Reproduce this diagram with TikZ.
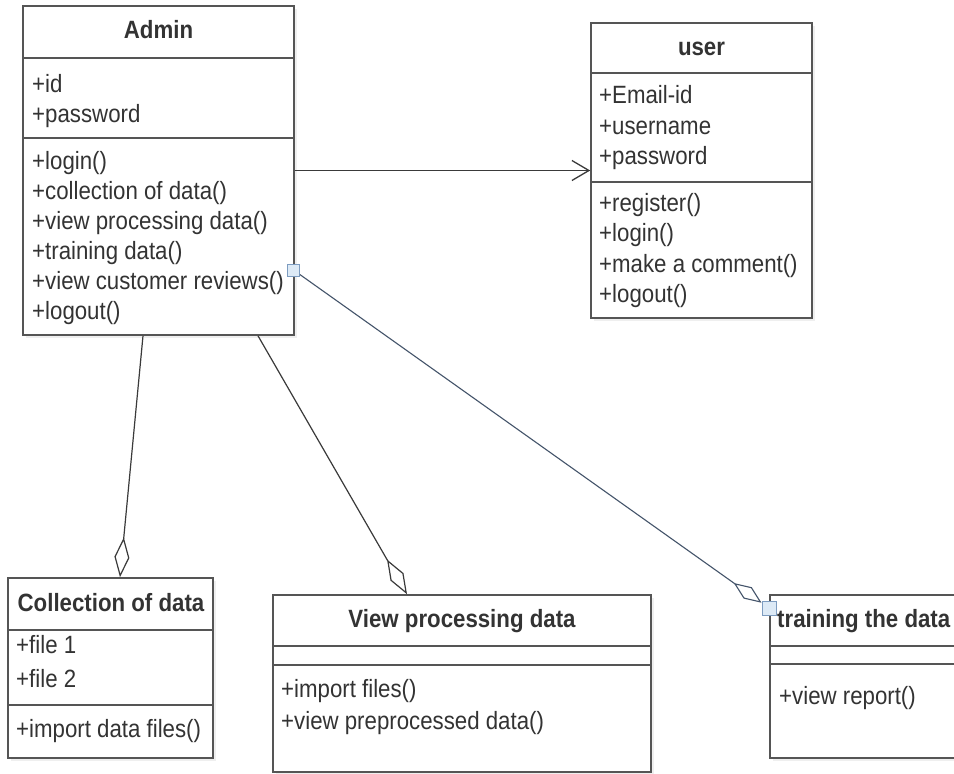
\documentclass[tikz,border=0pt]{standalone}
\usepackage{fontspec}
\setmainfont[FakeStretch=0.89]{Liberation Sans}
\usetikzlibrary{arrows.meta,shadows}
\definecolor{bordc}{HTML}{555555}
\definecolor{txtc}{HTML}{333333}
\definecolor{linec}{HTML}{3A3A3A}
\definecolor{bluec}{HTML}{44546A}
\definecolor{sqf}{HTML}{DDEAF6}
\definecolor{sqd}{HTML}{7D9CC0}
\begin{document}
\begin{tikzpicture}[x=1pt,y=-1pt,
  box/.style={draw=bordc, line width=1.6pt, fill=white, rectangle, inner sep=0pt,
    drop shadow={opacity=0.12, shadow xshift=3pt, shadow yshift=-3pt}},
  divline/.style={draw=bordc, line width=1.6pt},
  txt/.style={font=\fontsize{25}{28}\selectfont, text=txtc, inner sep=0pt, anchor=west,
    text height=17pt, text depth=5pt},
  ttl/.style={font=\bfseries\fontsize{25}{28}\selectfont, text=txtc, inner sep=0pt,
    text height=17pt, text depth=5pt},
  agg/.style={draw=linec, line width=1.2pt,
    -{Diamond[open, length=40pt, width=15pt, line width=1.2pt]}},
  aggb/.style={draw=bluec, line width=1.1pt,
    -{Diamond[open, length=34pt, width=14pt, line width=1.1pt]}},
  assoc/.style={draw=linec, line width=1.3pt,
    -{Straight Barb[length=17pt, width=20pt, line width=1.3pt]}},
  sqbox/.style={draw=sqd, fill=sqf, line width=0.9pt, inner sep=0pt, minimum size=12pt}
]
\clip (0,0) rectangle (954,774);
\fill[white] (0,0) rectangle (954,774);

% Admin
\node[box, minimum width=271pt, minimum height=329pt] (admin) at (158.5,170.5) {};
\draw[divline] (admin.west |- 0,58) -- (admin.east |- 0,58);
\draw[divline] (admin.west |- 0,138) -- (admin.east |- 0,138);
\node[ttl] (adminT) at (158.5,32) {Admin};
\node[txt] (a1) at (32,86) {+id};
\node[txt] (a2) at (32,116) {+password};
\node[txt] (m1) at (32,163) {+login()};
\node[txt] (m2) at (32,193) {+collection of data()};
\node[txt] (m3) at (32,223) {+view processing data()};
\node[txt] (m4) at (32,253) {+training data()};
\node[txt] (m5) at (32,283) {+view customer reviews()};
\node[txt] (m6) at (32,313) {+logout()};

% user
\node[box, minimum width=221pt, minimum height=295pt] (user) at (701.5,170.5) {};
\draw[divline] (user.west |- 0,73) -- (user.east |- 0,73);
\draw[divline] (user.west |- 0,182) -- (user.east |- 0,182);
\node[ttl] (userT) at (701.5,49) {user};
\node[txt] (u1) at (599,97) {+Email-id};
\node[txt] (u2) at (599,128) {+username};
\node[txt] (u3) at (599,158) {+password};
\node[txt] (u4) at (599,205) {+register()};
\node[txt] (u5) at (599,235) {+login()};
\node[txt] (u6) at (599,266) {+make a comment()};
\node[txt] (u7) at (599,296) {+logout()};

% Collection of data
\node[box, minimum width=205pt, minimum height=180pt] (coll) at (110.5,668) {};
\draw[divline] (coll.west |- 0,630) -- (coll.east |- 0,630);
\draw[divline] (coll.west |- 0,705) -- (coll.east |- 0,705);
\node[ttl] (collT) at (111,605) {Collection of data};
\node[txt] (c1) at (16,647) {+file 1};
\node[txt] (c2) at (16,681) {+file 2};
\node[txt] (c3) at (16,731) {+import data files()};

% View processing data
\node[box, minimum width=378pt, minimum height=177pt] (vp) at (462,683.5) {};
\draw[divline] (vp.west |- 0,646) -- (vp.east |- 0,646);
\draw[divline] (vp.west |- 0,665) -- (vp.east |- 0,665);
\node[ttl] (vpT) at (462,621) {View processing data};
\node[txt] (v1) at (281,691) {+import files()};
\node[txt] (v2) at (281,723) {+view preprocessed data()};

% training the data
\node[box, minimum width=220pt, minimum height=163pt] (tr) at (880,676.5) {};
\draw[divline] (tr.west |- 0,646) -- (tr.east |- 0,646);
\draw[divline] (tr.west |- 0,664) -- (tr.east |- 0,664);
\node[ttl, anchor=west] (trT) at (777,621) {training the data};
\node[txt] (t1) at (779,698) {+view report()};

% connectors
\draw[assoc] (admin.east) -- (user.west);
\draw[agg] ([xshift=-15.5pt]admin.south) -- ([xshift=9.5pt]coll.north);
\draw[agg] ([xshift=99.5pt]admin.south) -- ([xshift=-55pt]vp.north);

\node[sqbox] (sqa) at (293.5,270) {};
\node[sqbox, minimum size=14pt] (sqb) at (769,608) {};
\draw[aggb] (sqa) -- (sqb);
\end{tikzpicture}
\end{document}
